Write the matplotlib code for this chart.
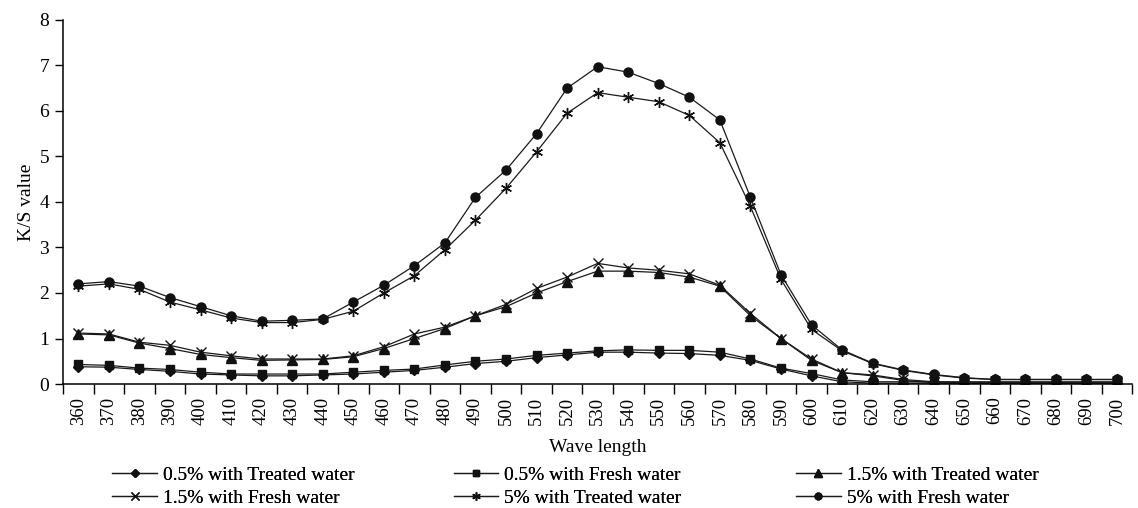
import numpy as np
import matplotlib
matplotlib.use('Agg')
import matplotlib.pyplot as plt

plt.rcParams['font.family'] = ['Liberation Serif', 'DejaVu Serif']

# Wavelengths (categories on the x axis)
wavelengths = [360, 370, 380, 390, 400, 410, 420, 430, 440, 450, 460, 470,
               480, 490, 500, 510, 520, 530, 540, 550, 560, 570, 580, 590,
               600, 610, 620, 630, 640, 650, 660, 670, 680, 690, 700]

# K/S values
treated_05 = [0.38, 0.37, 0.32, 0.28, 0.22, 0.20, 0.18, 0.18, 0.20, 0.22, 0.26, 0.30,
              0.37, 0.45, 0.50, 0.58, 0.64, 0.70, 0.70, 0.68, 0.67, 0.63, 0.52, 0.33,
              0.18, 0.05, 0.02, 0.02, 0.02, 0.02, 0.02, 0.02, 0.02, 0.02, 0.02]
fresh_05 = [0.43, 0.41, 0.35, 0.32, 0.26, 0.22, 0.22, 0.22, 0.22, 0.26, 0.30, 0.33,
            0.42, 0.50, 0.55, 0.63, 0.68, 0.73, 0.75, 0.74, 0.74, 0.70, 0.55, 0.35,
            0.23, 0.09, 0.05, 0.05, 0.05, 0.05, 0.05, 0.05, 0.05, 0.05, 0.05]
treated_15 = [1.10, 1.08, 0.90, 0.78, 0.65, 0.58, 0.52, 0.53, 0.54, 0.60, 0.78, 1.00,
              1.22, 1.50, 1.70, 2.00, 2.25, 2.48, 2.48, 2.45, 2.35, 2.15, 1.50, 1.00,
              0.52, 0.25, 0.18, 0.08, 0.03, 0.02, 0.02, 0.02, 0.02, 0.02, 0.02]
fresh_15 = [1.12, 1.10, 0.92, 0.85, 0.70, 0.62, 0.55, 0.55, 0.55, 0.62, 0.82, 1.10,
            1.25, 1.50, 1.75, 2.10, 2.35, 2.65, 2.55, 2.50, 2.42, 2.17, 1.55, 1.00,
            0.55, 0.25, 0.20, 0.10, 0.05, 0.03, 0.03, 0.03, 0.03, 0.03, 0.03]
treated_5 = [2.15, 2.20, 2.08, 1.80, 1.63, 1.45, 1.35, 1.35, 1.42, 1.60, 2.00, 2.38,
             2.95, 3.60, 4.30, 5.10, 5.95, 6.40, 6.30, 6.20, 5.90, 5.30, 3.90, 2.30,
             1.20, 0.73, 0.45, 0.30, 0.20, 0.13, 0.10, 0.10, 0.10, 0.10, 0.10]
fresh_5 = [2.20, 2.25, 2.15, 1.90, 1.70, 1.50, 1.38, 1.40, 1.43, 1.80, 2.17, 2.60,
           3.10, 4.10, 4.70, 5.50, 6.50, 6.97, 6.85, 6.60, 6.30, 5.80, 4.10, 2.40,
           1.30, 0.75, 0.46, 0.31, 0.21, 0.14, 0.10, 0.10, 0.10, 0.10, 0.10]

series = [
    ('0.5% with Treated water', treated_05, 'D', 5.5),
    ('0.5% with Fresh water', fresh_05, 's', 6),
    ('1.5% with Treated water', treated_15, '^', 7),
    ('1.5% with Fresh water', fresh_15, 'x', 7),
    ('5% with Treated water', treated_5, (6, 2, 0), 8),
    ('5% with Fresh water', fresh_5, 'o', 6.5),
]

fig = plt.figure(figsize=(11.38, 5.08), dpi=100)
ax = fig.add_axes([0.0554, 0.244, 0.9396, 0.717])

x = np.arange(len(wavelengths))
lines = []
for label, vals, marker, ms in series:
    ln, = ax.plot(x, vals, color='#1a1a1a', linewidth=0.9, marker=marker,
                  markersize=ms, markerfacecolor='#111111', markeredgecolor='#111111',
                  markeredgewidth=1.0, label=label)
    lines.append(ln)

ax.set_xlim(-0.5, len(wavelengths) - 0.5)
ax.set_ylim(0, 8)
ax.set_yticks(range(0, 9))
ax.tick_params(axis='y', direction='out', length=6, width=1, labelsize=14, pad=4)

# tick marks between categories, labels at the category centres
ax.set_xticks(np.arange(-0.5, len(wavelengths), 1.0))
ax.set_xticklabels([])
ax.set_xticks(x, minor=True)
ax.set_xticklabels([str(w) for w in wavelengths], minor=True, rotation=90)
ax.tick_params(axis='x', which='major', direction='out', length=7, width=1)
ax.tick_params(axis='x', which='minor', length=0, labelsize=13.5, pad=9)

for side in ['top', 'right']:
    ax.spines[side].set_visible(False)
for side in ['left', 'bottom']:
    ax.spines[side].set_linewidth(1.1)

ax.set_xlabel('Wave length', fontsize=14, labelpad=10)
ax.set_ylabel('K/S value', fontsize=14, labelpad=3)

# legend: three fixed-width columns, read row by row
col_x = [0.090, 0.390, 0.691]
for c in range(3):
    idx = [c, c + 3]
    leg = fig.legend([lines[i] for i in idx], [series[i][0] for i in idx],
                     loc='upper left', bbox_to_anchor=(col_x[c], 0.102),
                     frameon=False, fontsize=14, handlelength=2.3,
                     handletextpad=0.3, labelspacing=0.3, borderpad=0,
                     markerscale=0.75)
    fig.add_artist(leg)

fig.savefig('out.png', dpi=100)
